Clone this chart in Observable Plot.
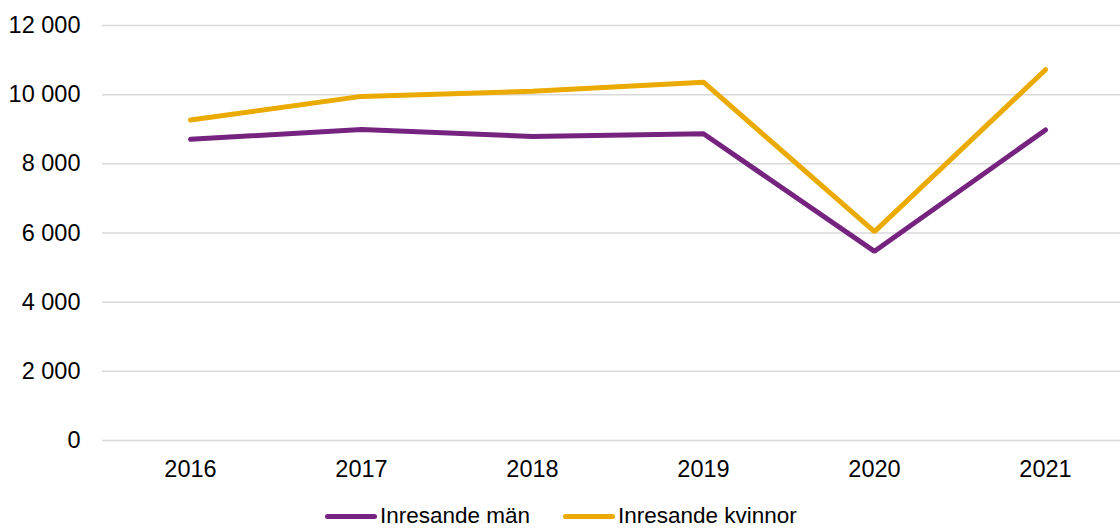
<!DOCTYPE html>
<html>
<head>
<meta charset="utf-8">
<script src="https://cdn.jsdelivr.net/npm/d3@7"></script>
<script src="https://cdn.jsdelivr.net/npm/@observablehq/plot@0.6"></script>
<style>
  html, body { margin: 0; padding: 0; background: #fff; overflow: hidden; }
  body { width: 1120px; height: 528px; font-family: "Liberation Sans", Arial, sans-serif; }
  #legend { position: relative; height: 24px; line-height: 24px; font-size: 22.5px; color: #000; white-space: nowrap; }
  .item { position: absolute; top: 0; display: flex; align-items: center; height: 24px; }
  .sw { display: inline-block; width: 52px; height: 5px; border-radius: 3px; margin-right: 3px; }
</style>
</head>
<body>
<div id="chart"></div>
<div id="legend"></div>
<script>
const years = ["2016", "2017", "2018", "2019", "2020", "2021"];
const man = [8710, 8990, 8790, 8870, 5470, 8980];
const kvinnor = [9270, 9950, 10100, 10360, 6040, 10720];
const yTicks = [0, 2000, 4000, 6000, 8000, 10000, 12000];
const seriesNames = ["Inresande män", "Inresande kvinnor"];
const seriesColors = ["#762380", "#EBAA00"];

const rows = [];
years.forEach((y, i) => {
  rows.push({year: y, value: man[i], series: seriesNames[0]});
  rows.push({year: y, value: kvinnor[i], series: seriesNames[1]});
});

const fmt = d => d3.format(",")(d).replace(/,/g, " ");

const plot = Plot.plot({
  width: 1120,
  height: 504,
  marginLeft: 102,
  marginRight: 0,
  marginTop: 25,
  marginBottom: 64,
  style: {fontFamily: "'Liberation Sans', Arial, sans-serif", fontSize: "23.5px", color: "#000", background: "#fff"},
  x: {type: "point", domain: years, padding: 0.5, range: [102, 1132], label: null},
  y: {domain: [0, 12000], label: null},
  color: {domain: seriesNames, range: seriesColors},
  marks: [
    Plot.ruleY(yTicks, {stroke: "#d9d9d9", strokeWidth: 1.5}),
    Plot.axisY({ticks: yTicks, tickFormat: fmt, tickSize: 0, tickPadding: 22, label: null, fontSize: 23.5}),
    Plot.axisX({tickSize: 0, tickPadding: 20, label: null, fontSize: 23.5}),
    Plot.line(rows, {x: "year", y: "value", z: "series", stroke: "series", strokeWidth: 5, strokeLinecap: "round", strokeLinejoin: "miter"})
  ]
});
document.getElementById("chart").appendChild(plot);

const legend = document.getElementById("legend");
const lefts = [325, 563];
seriesNames.forEach((name, i) => {
  const it = document.createElement("div");
  it.className = "item";
  it.style.left = lefts[i] + "px";
  const sw = document.createElement("span");
  sw.className = "sw";
  sw.style.background = seriesColors[i];
  const tx = document.createElement("span");
  tx.textContent = name;
  it.appendChild(sw);
  it.appendChild(tx);
  legend.appendChild(it);
});
</script>
</body>
</html>
